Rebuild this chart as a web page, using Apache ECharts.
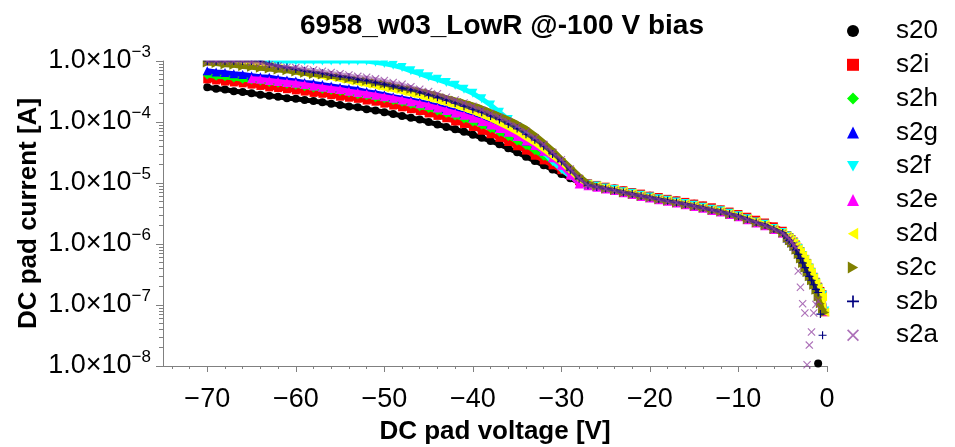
<!DOCTYPE html>
<html>
<head>
<meta charset="utf-8">
<script src="https://cdn.jsdelivr.net/npm/echarts@6/dist/echarts.min.js"></script>
<style>html,body{margin:0;padding:0;background:#fff}#c{width:955px;height:447px}</style>
</head>
<body>
<div id="c"></div>
<script>
const titleText = '6958_w03_LowR @-100 V bias';
const xName = 'DC pad voltage [V]';
const yName = 'DC pad current [A]';
const seriesNames = ['s20','s2i','s2h','s2g','s2f','s2e','s2d','s2c','s2b','s2a'];
const xMajorTicks = [-70,-60,-50,-40,-30,-20,-10,0];
const xMinorTicks = [-74,-72,-68,-66,-64,-62,-58,-56,-54,-52,-48,-46,-44,-42,-38,-36,-34,-32,-28,-26,-24,-22,-18,-16,-14,-12,-8,-6,-4,-2];

const voltage = [-70,-69,-68,-67,-66,-65,-64,-63,-62,-61,-60,-59,-58,-57,-56,-55,-54,-53,-52,-51,
  -50,-49,-48,-47,-46,-45,-44,-43,-42,-41,-40,-39,-38,-37,-36,-35,-34,-33,-32,-31,-30,-29,-28,
  -27,-26,-25,-24,-23,-22,-21,-20,-19,-18,-17,-16,-15,-14,-13,-12,-11,-10,-9,-8,-7,-6,-5,
  -4.5,-4.25,-4,-3.75,-3.5,-3.25,-3,-2.75,-2.5,-2.25,-2,-1.75,-1.5,-1.25,-1,-0.75,-0.5,-0.25];

const s20 = [3.7e-4,3.5e-4,3.4e-4,3.2e-4,3.1e-4,2.95e-4,2.8e-4,2.7e-4,2.6e-4,2.45e-4,2.4e-4,2.3e-4,2.2e-4,2.1e-4,2.0e-4,1.9e-4,1.8e-4,1.74e-4,1.62e-4,1.55e-4,1.45e-4,1.35e-4,1.26e-4,1.17e-4,1.1e-4,1.0e-4,9.1e-5,8.3e-5,7.6e-5,6.9e-5,6.2e-5,5.5e-5,4.9e-5,4.3e-5,3.7e-5,3.2e-5,2.7e-5,2.3e-5,1.95e-5,1.66e-5,1.41e-5,1.2e-5,1.02e-5,
  9.8e-6,9.2e-6,8.6e-6,8.1e-6,7.5e-6,7.1e-6,6.6e-6,6.2e-6,5.8e-6,5.45e-6,5.15e-6,4.85e-6,4.55e-6,4.25e-6,3.9e-6,3.65e-6,3.35e-6,3.05e-6,2.75e-6,2.45e-6,2.2e-6,1.9e-6,1.6e-6,
  1.26e-6,1.15e-6,1.05e-6,9.3e-7,8.1e-7,6.9e-7,5.9e-7,5.0e-7,4.2e-7,3.5e-7,3.0e-7,2.6e-7,2.2e-7,1.8e-7,1.1e-8,null,null,null];
const s2i = [5.0e-4,4.8e-4,4.6e-4,4.45e-4,4.3e-4,4.1e-4,3.9e-4,3.7e-4,3.6e-4,3.45e-4,3.3e-4,3.15e-4,3.0e-4,2.9e-4,2.75e-4,2.6e-4,2.5e-4,2.4e-4,2.25e-4,2.15e-4,2.0e-4,1.86e-4,1.74e-4,1.62e-4,1.51e-4,1.38e-4,1.26e-4,1.15e-4,1.02e-4,9.3e-5,8.3e-5,7.2e-5,6.3e-5,5.5e-5,4.7e-5,4.0e-5,3.4e-5,2.8e-5,2.35e-5,1.95e-5,1.62e-5,1.32e-5,1.07e-5,
  9.9e-6,9.3e-6,8.7e-6,8.1e-6,7.6e-6,7.1e-6,6.7e-6,6.2e-6,5.9e-6,5.5e-6,5.2e-6,4.9e-6,4.6e-6,4.3e-6,4.0e-6,3.7e-6,3.4e-6,3.1e-6,2.8e-6,2.5e-6,2.25e-6,1.95e-6,1.65e-6,
  1.4e-6,1.3e-6,1.2e-6,1.1e-6,9.8e-7,8.7e-7,7.6e-7,6.6e-7,5.7e-7,4.9e-7,4.1e-7,3.5e-7,2.9e-7,2.4e-7,2.0e-7,1.7e-7,1.5e-7,7.6e-8];
const s2h = [5.9e-4,5.6e-4,5.5e-4,5.25e-4,5.0e-4,4.9e-4,4.7e-4,4.45e-4,4.3e-4,4.15e-4,4.0e-4,3.8e-4,3.6e-4,3.45e-4,3.3e-4,3.15e-4,3.0e-4,2.8e-4,2.7e-4,2.5e-4,2.4e-4,2.25e-4,2.1e-4,1.95e-4,1.78e-4,1.66e-4,1.51e-4,1.38e-4,1.26e-4,1.12e-4,1.0e-4,8.9e-5,7.8e-5,6.8e-5,5.8e-5,4.9e-5,4.1e-5,3.4e-5,2.75e-5,2.25e-5,1.82e-5,1.45e-5,1.12e-5,
  9.5e-6,8.9e-6,8.3e-6,7.8e-6,7.2e-6,6.8e-6,6.3e-6,5.9e-6,5.5e-6,5.2e-6,4.9e-6,4.6e-6,4.3e-6,4.0e-6,3.7e-6,3.5e-6,3.2e-6,2.9e-6,2.6e-6,2.3e-6,2.1e-6,1.8e-6,1.55e-6,
  1.35e-6,1.26e-6,1.15e-6,1.05e-6,9.3e-7,8.3e-7,7.4e-7,6.5e-7,5.6e-7,4.8e-7,4.0e-7,3.4e-7,2.8e-7,2.3e-7,1.9e-7,1.6e-7,1.35e-7,7.8e-8];
const s2g = [6.9e-4,6.6e-4,6.45e-4,6.2e-4,6.0e-4,5.75e-4,5.5e-4,5.4e-4,5.1e-4,4.9e-4,4.7e-4,4.45e-4,4.3e-4,4.1e-4,3.9e-4,3.7e-4,3.55e-4,3.4e-4,3.15e-4,3.0e-4,2.8e-4,2.6e-4,2.45e-4,2.3e-4,2.15e-4,2.0e-4,1.82e-4,1.66e-4,1.51e-4,1.35e-4,1.2e-4,1.07e-4,9.3e-5,8.1e-5,6.9e-5,5.9e-5,4.9e-5,4.1e-5,3.3e-5,2.6e-5,2.1e-5,1.62e-5,1.23e-5,
  9.5e-6,8.9e-6,8.3e-6,7.8e-6,7.2e-6,6.8e-6,6.3e-6,5.9e-6,5.5e-6,5.2e-6,4.9e-6,4.6e-6,4.3e-6,4.0e-6,3.7e-6,3.5e-6,3.2e-6,2.9e-6,2.6e-6,2.3e-6,2.1e-6,1.8e-6,1.55e-6,
  1.26e-6,1.15e-6,1.05e-6,9.3e-7,8.1e-7,6.9e-7,5.9e-7,5.0e-7,4.2e-7,3.5e-7,3.0e-7,2.6e-7,2.2e-7,1.8e-7,1.4e-7,1.1e-7,9.0e-8,null];
const s2f = [1e-3,1e-3,1e-3,1e-3,1e-3,1e-3,1e-3,1e-3,1e-3,1e-3,1e-3,1e-3,1e-3,1e-3,1e-3,1e-3,1e-3,1e-3,1e-3,
  9.5e-4,9.1e-4,8.5e-4,7.8e-4,6.9e-4,6.2e-4,5.5e-4,5.0e-4,4.45e-4,4.0e-4,3.45e-4,2.95e-4,2.4e-4,1.9e-4,1.45e-4,1.1e-4,8.3e-5,6.2e-5,4.5e-5,3.2e-5,2.25e-5,1.66e-5,1.29e-5,1.05e-5,
  9.5e-6,8.9e-6,8.3e-6,7.8e-6,7.2e-6,6.8e-6,6.3e-6,5.9e-6,5.5e-6,5.2e-6,4.9e-6,4.6e-6,4.3e-6,4.0e-6,3.7e-6,3.5e-6,3.2e-6,2.9e-6,2.6e-6,2.3e-6,2.1e-6,1.8e-6,1.55e-6,
  1.35e-6,1.25e-6,1.15e-6,1.05e-6,9.4e-7,8.4e-7,7.4e-7,6.4e-7,5.5e-7,4.7e-7,4.0e-7,3.4e-7,2.8e-7,2.3e-7,1.9e-7,1.6e-7,1.45e-7,8.0e-8];
const s2e = [1e-3,1e-3,1e-3,1e-3,1e-3,
  5.1e-4,5.0e-4,4.8e-4,4.6e-4,4.45e-4,4.3e-4,4.1e-4,3.9e-4,3.7e-4,3.55e-4,3.4e-4,3.2e-4,3.05e-4,2.9e-4,2.75e-4,2.6e-4,2.45e-4,2.3e-4,2.15e-4,2.0e-4,1.86e-4,1.7e-4,1.55e-4,1.41e-4,1.29e-4,1.15e-4,1.02e-4,8.9e-5,7.8e-5,6.8e-5,5.8e-5,4.9e-5,4.1e-5,3.3e-5,2.6e-5,1.95e-5,1.35e-5,9.6e-6,
  9.0e-6,8.5e-6,8.0e-6,7.5e-6,6.9e-6,6.5e-6,6.0e-6,5.7e-6,5.3e-6,5.0e-6,4.7e-6,4.4e-6,4.1e-6,3.85e-6,3.55e-6,3.35e-6,3.05e-6,2.8e-6,2.5e-6,2.2e-6,2.0e-6,1.73e-6,1.5e-6,
  1.33e-6,1.24e-6,1.13e-6,1.03e-6,9.2e-7,8.2e-7,7.3e-7,6.4e-7,5.5e-7,4.7e-7,3.9e-7,3.3e-7,2.8e-7,2.3e-7,1.9e-7,1.55e-7,1.4e-7,7.9e-8];
const s2d = [9.6e-4,9.6e-4,9.6e-4,9.6e-4,9.6e-4,9.6e-4,
  8.7e-4,8.1e-4,7.6e-4,7.1e-4,6.6e-4,6.3e-4,6.0e-4,5.6e-4,5.4e-4,5.0e-4,4.7e-4,4.45e-4,4.15e-4,3.9e-4,3.6e-4,3.4e-4,3.15e-4,2.9e-4,2.7e-4,2.45e-4,2.25e-4,2.05e-4,1.86e-4,1.66e-4,1.48e-4,1.29e-4,1.12e-4,9.5e-5,8.1e-5,6.8e-5,5.5e-5,4.5e-5,3.55e-5,2.75e-5,2.15e-5,1.58e-5,1.15e-5,
  9.6e-6,9.0e-6,8.4e-6,7.8e-6,7.3e-6,6.8e-6,6.3e-6,5.9e-6,5.5e-6,5.2e-6,4.9e-6,4.6e-6,4.3e-6,4.0e-6,3.7e-6,3.5e-6,3.2e-6,2.9e-6,2.6e-6,2.35e-6,2.1e-6,1.8e-6,1.55e-6,
  1.35e-6,1.25e-6,1.15e-6,1.05e-6,9.3e-7,8.3e-7,7.4e-7,6.5e-7,5.6e-7,4.8e-7,4.0e-7,3.4e-7,2.8e-7,2.3e-7,1.9e-7,1.6e-7,1.35e-7,7.6e-8];
const s2c = [9.3e-4,9.1e-4,8.7e-4,8.5e-4,8.1e-4,7.9e-4,7.6e-4,7.4e-4,7.1e-4,6.9e-4,6.6e-4,6.3e-4,6.0e-4,5.9e-4,5.6e-4,5.4e-4,5.1e-4,4.9e-4,4.7e-4,4.4e-4,4.2e-4,3.9e-4,3.6e-4,3.45e-4,3.2e-4,3.0e-4,2.75e-4,2.5e-4,2.3e-4,2.1e-4,1.9e-4,1.7e-4,1.48e-4,1.29e-4,1.12e-4,9.5e-5,7.9e-5,6.2e-5,4.7e-5,3.5e-5,2.5e-5,1.82e-5,1.32e-5,
  1.0e-5,8.8e-6,8.0e-6,7.5e-6,6.9e-6,6.5e-6,6.0e-6,5.7e-6,5.3e-6,5.0e-6,4.7e-6,4.4e-6,4.1e-6,3.85e-6,3.55e-6,3.35e-6,3.05e-6,2.8e-6,2.5e-6,2.2e-6,2.0e-6,1.73e-6,1.5e-6,
  1.24e-6,1.13e-6,1.03e-6,9.1e-7,7.9e-7,6.7e-7,5.7e-7,4.8e-7,4.0e-7,3.4e-7,2.9e-7,2.5e-7,2.1e-7,1.75e-7,1.35e-7,1.05e-7,8.5e-8,7.5e-8];
const s2b = [1e-3,1e-3,1e-3,1e-3,1e-3,1e-3,1e-3,
  8.9e-4,8.3e-4,7.8e-4,7.4e-4,6.9e-4,6.6e-4,6.3e-4,5.9e-4,5.6e-4,5.4e-4,5.0e-4,4.8e-4,4.45e-4,4.15e-4,3.9e-4,3.6e-4,3.4e-4,3.1e-4,2.8e-4,2.55e-4,2.3e-4,2.05e-4,1.82e-4,1.62e-4,1.45e-4,1.26e-4,1.1e-4,9.3e-5,7.8e-5,6.3e-5,5.1e-5,4.0e-5,3.0e-5,2.25e-5,1.62e-5,1.17e-5,
  9.2e-6,8.6e-6,8.1e-6,7.6e-6,7.0e-6,6.6e-6,6.1e-6,5.8e-6,5.4e-6,5.1e-6,4.8e-6,4.5e-6,4.2e-6,3.9e-6,3.6e-6,3.4e-6,3.1e-6,2.85e-6,2.55e-6,2.25e-6,2.05e-6,1.76e-6,1.52e-6,
  1.25e-6,1.14e-6,1.04e-6,9.2e-7,8.0e-7,6.8e-7,5.8e-7,4.9e-7,4.1e-7,3.45e-7,2.95e-7,2.55e-7,2.15e-7,1.8e-7,1.6e-7,7.1e-8,3.2e-8,null];
const s2a = [1e-3,1e-3,1e-3,1e-3,1e-3,
  9.5e-4,9.1e-4,8.7e-4,8.3e-4,7.9e-4,7.8e-4,7.4e-4,7.1e-4,6.8e-4,6.5e-4,6.2e-4,5.9e-4,5.6e-4,5.4e-4,5.1e-4,4.8e-4,4.45e-4,4.15e-4,3.8e-4,3.45e-4,3.15e-4,2.9e-4,2.55e-4,2.3e-4,2.05e-4,1.82e-4,1.58e-4,1.38e-4,1.2e-4,1.02e-4,8.5e-5,6.9e-5,5.5e-5,4.3e-5,3.2e-5,2.4e-5,1.7e-5,1.2e-5,
  9.1e-6,8.6e-6,8.0e-6,7.5e-6,7.0e-6,6.5e-6,6.1e-6,5.7e-6,5.35e-6,5.0e-6,4.75e-6,4.45e-6,4.15e-6,3.85e-6,3.6e-6,3.35e-6,3.1e-6,2.8e-6,2.5e-6,2.25e-6,2.0e-6,1.75e-6,1.5e-6,
  1.3e-6,1.2e-6,1.1e-6,9.5e-7,8.5e-7,3.6e-7,1.95e-7,1.05e-7,7.4e-8,1.05e-8,2.2e-8,3.6e-8,7.4e-8,1.02e-7,1.17e-7,null,null,null];

const seriesValues = [s20, s2i, s2h, s2g, s2f, s2e, s2d, s2c, s2b, s2a];
// index range of each series drawn as a continuous dense band (points outside are isolated)
const bandRange = [[0,79],[0,83],[0,83],[0,83],[0,83],[5,83],[0,83],[0,83],[0,80],[0,70]];
const colors = ['#000000','#ff0000','#00ff00','#0000ff','#00ffff','#ff00ff','#ffff00','#808000','#000080','#9040a0'];
const symbols = ['circle','rect','diamond','triangle',
  'path://M0,0L10,0L5,8.66Z','triangle',
  'path://M8.66,0L8.66,10L0,5Z','path://M0,0L8.66,5L0,10Z',
  'path://M4.3,0H5.7V4.3H10V5.7H5.7V10H4.3V5.7H0V4.3H4.3Z',
  'path://M1,0L5,4L9,0L10,1L6,5L10,9L9,10L5,6L1,10L0,9L4,5L0,1Z'];
const sizes = [8,8,9,9,9,9,9,9,8,8];
const opac = [1,1,1,1,1,1,1,1,1,0.75];
const bandWidth = [5,5,5,5,5,5,5,5,3,3];
const bandOpacity = [1,1,1,1,1,1,1,1,0.7,0.55];

const FONT = 'Liberation Sans';
const AXIS_COLOR = '#808080';
const GRID = {left: 163, right: 128, top: 61, bottom: 81, containLabel: false, outerBoundsMode: 'none'};

const minorY = [];
for (let n = -8; n < -3; n++) for (let k = 2; k <= 9; k++) minorY.push(n + Math.log10(k));

const chart = echarts.init(document.getElementById('c'), null, {renderer: 'canvas'});
const series = [];
seriesNames.forEach((name, si) => {
  const vals = seriesValues[si];
  const r = bandRange[si];
  series.push({
    name: name + '_band', type: 'line', silent: true,
    xAxisIndex: 0, yAxisIndex: 0, symbol: 'none', connectNulls: false,
    lineStyle: {color: colors[si], width: bandWidth[si], opacity: bandOpacity[si]},
    data: voltage.map((v, i) => [v, (i >= r[0] && i <= r[1]) ? vals[i] : null]),
    z: 2 + 2 * si
  });
  series.push({
    name: name, type: 'scatter',
    xAxisIndex: 0, yAxisIndex: 0,
    symbol: symbols[si], symbolSize: sizes[si],
    itemStyle: {color: colors[si], opacity: opac[si]},
    data: voltage.map((v, i) => [v, vals[i]]).filter(d => d[1] != null),
    z: 3 + 2 * si
  });
});

chart.setOption({
  animation: false,
  backgroundColor: '#ffffff',
  title: {
    text: titleText, left: 295, top: 7,
    textStyle: {fontSize: 28, fontWeight: 'bold', fontFamily: FONT, color: '#000'}
  },
  legend: {
    orient: 'vertical', left: 842, top: 13,
    itemWidth: 12, itemHeight: 12, itemGap: 7.8,
    data: seriesNames,
    textStyle: {fontSize: 26, fontFamily: FONT, color: '#000', lineHeight: 26, padding: [0, 0, 0, 32]}
  },
  grid: [Object.assign({}, GRID), Object.assign({}, GRID)],
  graphic: [{
    type: 'rect', z: 100, silent: true,
    shape: {x: 164, y: 44, width: 676, height: 16.5},
    style: {fill: '#ffffff'}
  }],
  xAxis: [{
    gridIndex: 0, type: 'value', min: -75, max: 0,
    name: xName, nameLocation: 'middle', nameGap: 53,
    nameTextStyle: {fontSize: 26, fontWeight: 'bold', fontFamily: FONT, color: '#000'},
    axisLine: {show: true, onZero: false, lineStyle: {color: AXIS_COLOR, width: 1}},
    axisTick: {show: true, length: 6, customValues: xMajorTicks, lineStyle: {color: AXIS_COLOR}},
    axisLabel: {customValues: xMajorTicks, margin: 20, fontSize: 27, fontFamily: FONT, color: '#000',
      formatter: v => v < 0 ? '\u2212' + Math.abs(v) : String(v)},
    splitLine: {show: false}
  }, {
    gridIndex: 1, type: 'value', min: -75, max: 0, position: 'bottom',
    axisLine: {show: false, onZero: false},
    axisTick: {show: true, length: 3, customValues: xMinorTicks, lineStyle: {color: AXIS_COLOR}},
    axisLabel: {show: false},
    splitLine: {show: false}
  }],
  yAxis: [{
    gridIndex: 0, type: 'log', logBase: 10, min: 1e-8, max: 1e-3, position: 'left',
    name: yName, nameLocation: 'middle', nameGap: 121, nameMoveOverlap: false,
    nameTextStyle: {fontSize: 26, fontWeight: 'bold', fontFamily: FONT, color: '#000'},
    axisLine: {show: true, onZero: false, lineStyle: {color: AXIS_COLOR, width: 1}},
    axisTick: {show: true, length: 7, lineStyle: {color: AXIS_COLOR}},
    axisLabel: {
      margin: 12,
      formatter: v => { const e = Math.round(Math.log10(v)); return '{m|1.0×10}{e|\u2212' + Math.abs(e) + '}'; },
      rich: {
        m: {fontSize: 27, fontFamily: FONT, color: '#000', lineHeight: 34},
        e: {fontSize: 17, fontFamily: FONT, color: '#000', verticalAlign: 'top', lineHeight: 20}
      }
    },
    splitLine: {show: false}
  }, {
    gridIndex: 1, type: 'value', min: -8, max: -3, position: 'left',
    axisLine: {show: false, onZero: false},
    axisTick: {show: true, length: 4, customValues: minorY, lineStyle: {color: AXIS_COLOR}},
    axisLabel: {show: false},
    splitLine: {show: false}
  }],
  series: series
});
</script>
</body>
</html>
